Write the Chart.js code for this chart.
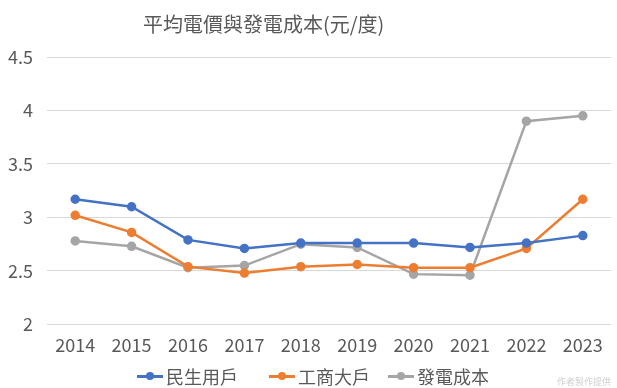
<!DOCTYPE html>
<html>
<head>
<meta charset="utf-8">
<script src="https://cdn.jsdelivr.net/npm/chart.js@4"></script>
<style>
  body { margin: 0; background: #fff; }
  #wrap { position: relative; width: 617px; height: 388px; }
  #title {
    position: absolute; left: 143px; top: 9px;
    font: 20px "Noto Sans CJK TC", sans-serif; color: #595959;
    white-space: nowrap;
  }
  #legend {
    position: absolute; left: 137px; top: 363px;
    display: flex;
    font: 18px "Noto Sans CJK TC", sans-serif; color: #595959;
    white-space: nowrap;
  }
  #legend .item { display: flex; align-items: center; gap: 3px; line-height: 26px; }
  #legend .item:nth-child(2) { margin-left: 31px; }
  #legend .item:nth-child(3) { margin-left: 18px; }
  #legend .mark { position: relative; width: 26px; height: 3px; }
  #legend .mark i {
    position: absolute; left: 9px; top: -2.5px; width: 8px; height: 8px; border-radius: 50%;
  }
  #credit {
    position: absolute; right: 6px; top: 375px;
    font: 9px "Noto Sans CJK TC", sans-serif; color: #d0d0d0;
  }
</style>
</head>
<body>
<div id="wrap">
  <canvas id="myChart" width="617" height="388"></canvas>
  <div id="title">平均電價與發電成本(元/度)</div>
  <div id="legend"></div>
  <div id="credit">作者製作提供</div>
</div>
<script>
let years = ["2014", "2015", "2016", "2017", "2018", "2019", "2020", "2021", "2022", "2023"];
let residential = [3.17, 3.10, 2.79, 2.71, 2.76, 2.76, 2.76, 2.72, 2.76, 2.83];
let industrial = [3.02, 2.86, 2.54, 2.48, 2.54, 2.56, 2.53, 2.53, 2.71, 3.17];
let genCost = [2.78, 2.73, 2.53, 2.55, 2.75, 2.72, 2.47, 2.46, 3.90, 3.95];
let seriesNames = ["民生用戶", "工商大戶", "發電成本"];
let seriesColors = ["#4472C4", "#ED7D31", "#A5A5A5"];

let allData = [residential, industrial, genCost];
let datasets = [];
for (let i = 0; i < allData.length; i++) {
  datasets.push({
    label: seriesNames[i],
    data: allData[i],
    borderColor: seriesColors[i],
    backgroundColor: seriesColors[i],
    borderWidth: 2.5,
    pointRadius: 3.5,
    pointHoverRadius: 3.5,
    tension: 0,
  });
}

const ctx = document.getElementById("myChart").getContext("2d");
const font = { family: '"Noto Sans CJK TC", sans-serif', size: 18 };

const myChart = new Chart(ctx, {
  type: "line",
  data: { labels: years, datasets: datasets },
  options: {
    responsive: false,
    animation: false,
    layout: { padding: { top: 57, right: 5, left: 0, bottom: 30 } },
    plugins: {
      title: { display: false },
      tooltip: { enabled: false },
      legend: { display: false },
    },
    scales: {
      x: {
        offset: true,
        grid: { display: false },
        border: { display: false },
        ticks: { font: font, color: "#595959", padding: 2, maxRotation: 0 },
      },
      y: {
        min: 2,
        max: 4.5,
        afterFit: function (axis) { axis.width = 47; },
        grid: { color: "#d9d9d9", lineWidth: 1, drawTicks: false },
        border: { display: false },
        ticks: {
          stepSize: 0.5,
          font: font,
          color: "#595959",
          padding: 14,
          callback: function (v) { return String(v); },
        },
      },
    },
  },
});

// legend built from the chart's datasets (line with a dot, like Excel)
let legend = document.getElementById("legend");
myChart.data.datasets.forEach(function (ds) {
  let item = document.createElement("div");
  item.className = "item";
  let mark = document.createElement("span");
  mark.className = "mark";
  mark.style.background = ds.borderColor;
  let dot = document.createElement("i");
  dot.style.background = ds.borderColor;
  mark.appendChild(dot);
  let text = document.createElement("span");
  text.textContent = ds.label;
  item.appendChild(mark);
  item.appendChild(text);
  legend.appendChild(item);
});
</script>
</body>
</html>
